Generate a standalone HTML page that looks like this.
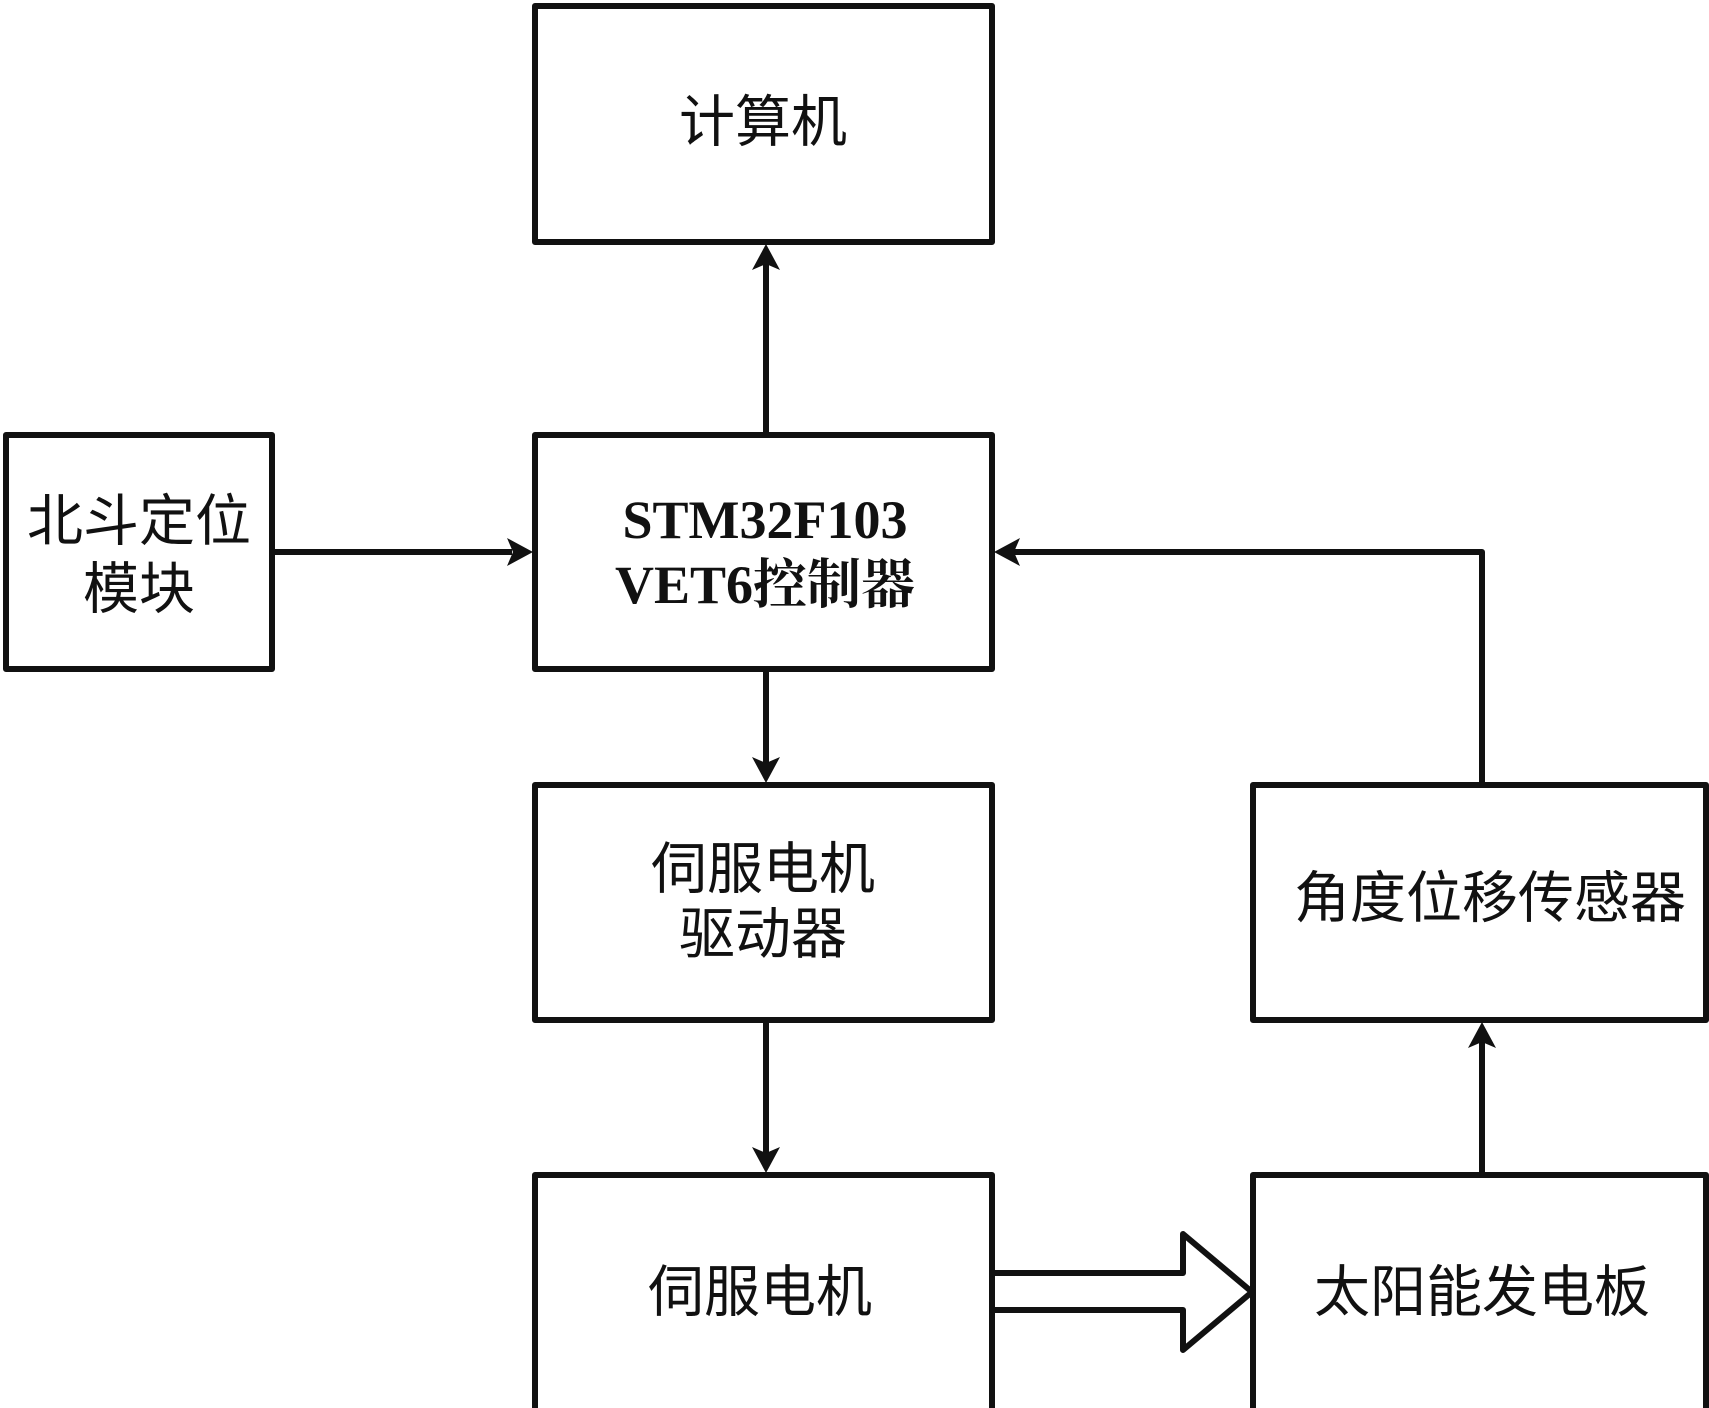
<!DOCTYPE html>
<html><head><meta charset="utf-8"><style>
html,body{margin:0;padding:0;background:#fff;}
svg{display:block;}
.c{font-family:"Liberation Sans","Noto Sans CJK SC",sans-serif;font-size:56px;fill:#111;}
.s{font-family:"Liberation Serif","Noto Serif CJK SC",serif;font-size:54px;font-weight:bold;fill:#111;}
</style></head><body>
<svg width="1709" height="1408" viewBox="0 0 1709 1408" xmlns="http://www.w3.org/2000/svg">
<g fill="none" stroke="#111" stroke-width="6" stroke-linejoin="round">
<rect x="535" y="6" width="457" height="236"/>
<rect x="6" y="435" width="266" height="234"/>
<rect x="535" y="435" width="457" height="234"/>
<rect x="535" y="785" width="457" height="235"/>
<rect x="1253" y="785" width="453" height="235"/>
<rect x="535" y="1175" width="457" height="240"/>
<rect x="1253" y="1175" width="453" height="240"/>
<line x1="766" y1="435" x2="766" y2="262"/>
<line x1="272" y1="552" x2="512" y2="552"/>
<line x1="766" y1="669" x2="766" y2="765"/>
<line x1="766" y1="1020" x2="766" y2="1154"/>
<polyline points="1482,785 1482,552 1012,552"/>
<line x1="1482" y1="1175" x2="1482" y2="1040"/>
<polygon points="992,1273 1183,1273 1183,1234 1252,1292 1183,1350 1183,1310 992,1310"/>
</g>
<g fill="#111">
<polygon points="766,244 780,270 766,264 752,270"/>
<polygon points="533,552 507,538 513,552 507,566"/>
<polygon points="766,783 752,757 766,763 780,757"/>
<polygon points="766,1173 752,1147 766,1153 780,1147"/>
<polygon points="994,552 1020,538 1014,552 1020,566"/>
<polygon points="1482,1022 1496,1048 1482,1042 1468,1048"/>
</g>
<g text-anchor="middle" dominant-baseline="central">
<text class="c" x="763" y="122">计算机</text>
<text class="c" x="139" y="521">北斗定位</text>
<text class="c" x="139" y="589">模块</text>
<text class="s" x="765" y="520">STM32F103</text>
<text class="s" x="765" y="585">VET6控制器</text>
<text class="c" x="763" y="869">伺服电机</text>
<text class="c" x="763" y="934">驱动器</text>
<text class="c" x="1490" y="898">角度位移传感器</text>
<text class="c" x="760" y="1292">伺服电机</text>
<text class="c" x="1482" y="1292">太阳能发电板</text>
</g>
</svg>
</body></html>
